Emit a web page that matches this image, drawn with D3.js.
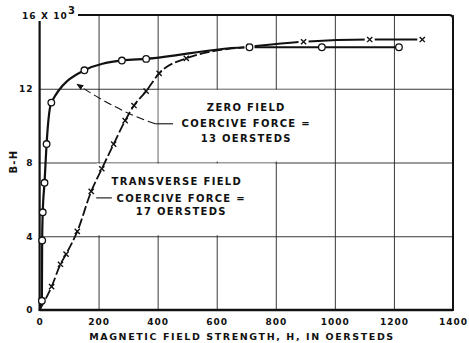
<!DOCTYPE html>
<html lang="en">
<head>
<meta charset="utf-8">
<title>B-H vs magnetic field strength</title>
<script src="https://cdn.jsdelivr.net/npm/d3@7"></script>
<style>
    body { margin: 0; background: #fff; }
    text {
        font-family: "DejaVu Sans", sans-serif;
        font-weight: bold;
        fill: #111;
    }
    .grid line { stroke: #222; stroke-width: 0.9px; }
    .grid path { display: none; }
    .tick text { font-size: 9px; letter-spacing: 1px; }
    .frame { fill: none; stroke: #111; stroke-width: 2px; }
    .zero { fill: none; stroke: #111; stroke-width: 2.2px; }
    .trans { fill: none; stroke: #111; stroke-width: 1.8px; }
    .note { font-size: 10px; letter-spacing: 1.3px; }
</style>
</head>
<body>
<script>
// tick values
const xTicks = [0, 200, 400, 600, 800, 1000, 1200, 1400];
const yTicks = [0, 4, 8, 12, 16];

// zero field curve (circles), H in oersteds, B-H in thousands
const zeroH = [0, 8, 9, 11, 17, 24, 40, 152, 279, 361, 711, 956, 1217];
const zeroB = [0, 0.5, 3.77, 5.3, 6.9, 9.0, 11.25, 13.0, 13.53, 13.62, 14.25, 14.25, 14.25];

// transverse field curve (crosses)
const transH = [0, 41, 71, 90, 128, 175, 211, 251, 290, 320, 361, 405, 497, 711, 894, 1118, 1296];
const transB = [0, 1.27, 2.48, 3.03, 4.26, 6.43, 7.66, 9.0, 10.27, 11.09, 11.87, 12.83, 13.65, 14.28, 14.55, 14.67, 14.67];

const width = 469, height = 343;
const x = d3.scaleLinear().domain([0, 1400]).range([39.5, 453]);
const y = d3.scaleLinear().domain([0, 16]).range([310, 15]);

const svg = d3.select('body').append('svg')
    .attr('width', width)
    .attr('height', height);

// grid + tick labels
svg.append('g')
    .attr('class', 'grid')
    .attr('transform', `translate(0, ${y(0)})`)
    .call(d3.axisBottom(x).tickValues(xTicks).tickSize(-(y(0) - y(16))).tickPadding(7)
        .tickFormat(d3.format('d')))
    .selectAll('text').attr('dy', '0.9em');

svg.append('g')
    .attr('class', 'grid')
    .attr('transform', `translate(${x(0)}, 0)`)
    .call(d3.axisLeft(y).tickValues(yTicks).tickSize(-(x(1400) - x(0))).tickPadding(6)
        .tickFormat(d => d === 16 ? '' : d));

// blank cells behind the notes
svg.append('rect')
    .attr('x', x(400) + 1).attr('y', y(12) + 1)
    .attr('width', x(1000) - x(400) - 2).attr('height', y(8) - y(12) - 2)
    .attr('fill', '#fff');
svg.append('rect')
    .attr('x', x(200) - 2).attr('y', y(8) + 1)
    .attr('width', x(800) - x(200) + 1).attr('height', y(4) - y(8) - 2)
    .attr('fill', '#fff');

// frame with rounded top-right corner
const r = 4;
svg.append('path')
    .attr('class', 'frame')
    .attr('d', `M${x(0)},${y(0)}V${y(16)}H${x(1400) - r}Q${x(1400)},${y(16)} ${x(1400)},${y(16) + r}V${y(0)}Z`);
svg.append('line')
    .attr('x1', x(0)).attr('x2', x(1400))
    .attr('y1', y(0)).attr('y2', y(0))
    .attr('stroke', '#111').attr('stroke-width', 2.6);

// top-left unit label
svg.append('rect')
    .attr('x', 20).attr('y', 4).attr('width', 58).attr('height', 17)
    .attr('fill', '#fff');
const unit = svg.append('text')
    .attr('x', 22).attr('y', y(16) + 3.5)
    .attr('class', 'note')
    .style('font-size', '9px')
    .style('letter-spacing', '1.1px')
    .text('16 X 10');
unit.append('tspan').attr('dy', -5).style('font-size', '10px').text('3');

// data
const zero = zeroH.map((h, i) => ({h, b: zeroB[i]}));
const trans = transH.map((h, i) => ({h, b: transB[i]}));

const line = d3.line()
    .x(d => x(d.h))
    .y(d => y(d.b))
    .curve(d3.curveMonotoneX);

svg.append('path')
    .attr('class', 'trans')
    .attr('stroke-dasharray', '10,3')
    .attr('d', line(trans.filter(d => d.h <= 711)));
svg.append('path')
    .attr('class', 'trans')
    .attr('d', line(trans.filter(d => d.h >= 711)));

svg.append('path')
    .attr('class', 'zero')
    .attr('d', line(zero));

// crosses
const cross = svg.append('g').selectAll('g')
    .data(trans.slice(1))
    .join('g')
    .attr('transform', d => `translate(${x(d.h)},${y(d.b)})`);
cross.filter(d => d.h > 700).append('rect')
    .attr('x', -5).attr('y', -4).attr('width', 10).attr('height', 8)
    .attr('fill', '#fff');
cross.append('path')
    .attr('d', 'M-2.6,-2.6L2.6,2.6M-2.6,2.6L2.6,-2.6')
    .attr('stroke', '#111')
    .attr('stroke-width', 1.4);

// circles
svg.append('g').selectAll('circle')
    .data(zero.slice(1))
    .join('circle')
    .attr('cx', d => x(d.h))
    .attr('cy', d => y(d.b))
    .attr('r', 3.3)
    .attr('fill', '#fff')
    .attr('stroke', '#111')
    .attr('stroke-width', 1.3);

// arrow marker
svg.append('defs').append('marker')
    .attr('id', 'arrow')
    .attr('viewBox', '0 0 10 10')
    .attr('refX', 9).attr('refY', 5)
    .attr('markerWidth', 7).attr('markerHeight', 7)
    .attr('markerUnits', 'userSpaceOnUse')
    .attr('orient', 'auto')
    .append('path')
    .attr('d', 'M0,1L10,5L0,9Z')
    .attr('fill', '#111');

// zero field note and leader
svg.append('path')
    .attr('d', `M${x(392)},${y(10.1)}Q${x(262)},${y(10.8)} ${x(127)},${y(12.25)}`)
    .attr('fill', 'none')
    .attr('stroke', '#111')
    .attr('stroke-width', 1.1)
    .attr('stroke-dasharray', '8,4')
    .attr('marker-end', 'url(#arrow)');
svg.append('line')
    .attr('x1', x(392)).attr('x2', x(452))
    .attr('y1', y(10.1)).attr('y2', y(10.1))
    .attr('stroke', '#111').attr('stroke-width', 1.1);

const notes = [
    ['ZERO FIELD', 700, 11.0],
    ['COERCIVE FORCE =', 700, 10.1],
    ['13 OERSTEDS', 700, 9.3],
    ['TRANSVERSE FIELD', 465, 6.95],
    ['COERCIVE FORCE =', 480, 6.05],
    ['17 OERSTEDS', 480, 5.35]
];
svg.append('g').selectAll('text')
    .data(notes)
    .join('text')
    .attr('class', 'note')
    .attr('x', d => x(d[1]))
    .attr('y', d => y(d[2]))
    .attr('dy', '0.35em')
    .attr('text-anchor', 'middle')
    .text(d => d[0]);

// transverse leader
svg.append('line')
    .attr('x1', x(192)).attr('x2', x(245))
    .attr('y1', y(6.08)).attr('y2', y(6.08))
    .attr('stroke', '#111').attr('stroke-width', 1.1);

// axis titles
svg.append('text')
    .attr('class', 'note')
    .attr('x', 242)
    .attr('y', 337)
    .attr('dy', '0.35em')
    .attr('text-anchor', 'middle')
    .style('font-size', '9.5px')
    .style('letter-spacing', '1.6px')
    .text('MAGNETIC FIELD STRENGTH, H, IN OERSTEDS');

svg.append('text')
    .attr('class', 'note')
    .attr('transform', `translate(13, ${y(8.05)}) rotate(-90)`)
    .attr('dy', '0.35em')
    .attr('text-anchor', 'middle')
    .text('B-H');
</script>
</body>
</html>
